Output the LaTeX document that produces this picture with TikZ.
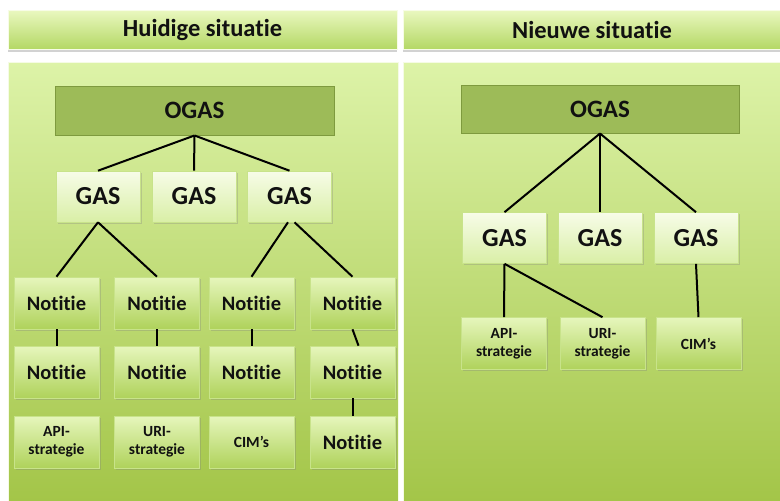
\documentclass[tikz,border=0pt]{standalone}
\usepackage{fontspec}
\setmainfont[Ligatures=NoCommon]{Carlito}
\usetikzlibrary{shadows}
\definecolor{panTop}{HTML}{DDF3A8}
\definecolor{panBot}{HTML}{A3C548}
\definecolor{hdTop}{HTML}{EAF8C0}
\definecolor{hdBot}{HTML}{B4D865}
\definecolor{ogasFill}{HTML}{9DBB58}
\definecolor{ogasLine}{HTML}{7E9A3E}
\definecolor{gasTop}{HTML}{F7FCE8}
\definecolor{gasBot}{HTML}{D9EFA6}
\definecolor{notTop}{HTML}{E6F6BC}
\definecolor{notBot}{HTML}{AFD25B}
\definecolor{boxLine}{HTML}{C8E38A}
\definecolor{txt}{HTML}{111111}
\tikzset{
  panel/.style={draw=white!70!panTop, line width=0.8pt, top color=panTop, bottom color=panBot},
  header/.style={draw=white!60!hdTop, line width=0.6pt, top color=hdTop, bottom color=hdBot,
     drop shadow={shadow xshift=0pt, shadow yshift=-2.5pt, opacity=0.35}, inner sep=0pt,
     font=\fontsize{24.5}{26}\selectfont\bfseries, text=txt},
  ogas/.style={draw=ogasLine, line width=1pt, fill=ogasFill, inner sep=0pt,
     font=\fontsize{25}{27}\selectfont\bfseries, text=txt},
  gas/.style={draw=boxLine, line width=0.6pt, top color=gasTop, bottom color=gasBot, inner sep=0pt,
     minimum width=84pt, minimum height=51pt,
     drop shadow={shadow xshift=1.5pt, shadow yshift=-1.5pt, opacity=0.3},
     font=\fontsize{26}{28}\selectfont\bfseries, text=txt},
  note/.style={draw=boxLine, line width=0.6pt, top color=notTop, bottom color=notBot, inner sep=0pt,
     minimum width=85pt, minimum height=52pt,
     drop shadow={shadow xshift=1.5pt, shadow yshift=-1.5pt, opacity=0.3},
     font=\fontsize{20.5}{22}\selectfont\bfseries, text=txt},
  small/.style={note, align=center, font=\fontsize{15.5}{18}\selectfont\bfseries},
  link/.style={line width=2pt, black}
}
\begin{document}
\begin{tikzpicture}[x=1pt,y=-1pt]
\useasboundingbox[fill=white] (0,0) rectangle (780,501);
% panels
\path[panel] (8,62) rectangle (398,502);
\path[panel] (403,62) rectangle (781,502);
% headers
\node[header, minimum width=389pt, minimum height=39pt] (hl) at (202.5,29.5) {Huidige situatie};
\node[header, minimum width=378pt, minimum height=39pt] (hr) at (592,29.5) {Nieuwe situatie};
% left tree
\node[ogas, minimum width=279pt, minimum height=49pt] (ol) at (194.5,110.5) {OGAS};
\node[gas] (gl1) at (98,196.5) {GAS};
\node[gas] (gl2) at (194,196.5) {GAS};
\node[gas] (gl3) at (289.5,196.5) {GAS};
\node[note] (a1) at (56.5,303) {Notitie};
\node[note] (a2) at (157,303) {Notitie};
\node[note] (a3) at (251.5,303) {Notitie};
\node[note] (a4) at (352.5,303) {Notitie};
\node[note] (b1) at (56.5,372) {Notitie};
\node[note] (b2) at (157,372) {Notitie};
\node[note] (b3) at (251.5,372) {Notitie};
\node[note] (b4) at (352.5,372) {Notitie};
\node[small] (c1) at (56.5,442) {API-\\strategie};
\node[small] (c2) at (157,442) {URI-\\strategie};
\node[small] (c3) at (251.5,442) {CIM’s};
\node[note] (c4) at (352.5,442) {Notitie};
\draw[link] (ol.south) -- (gl1.north);
\draw[link] (ol.south) -- (gl2.north);
\draw[link] (ol.south) -- (gl3.north);
\draw[link] (gl1.south) -- (a1.north);
\draw[link] (gl1.south) -- (a2.north);
\draw[link] ([xshift=-1.5pt]gl3.south) -- (a3.north);
\draw[link] ([xshift=5pt]gl3.south) -- (a4.north);
\draw[link] (a1.south) -- (b1.north);
\draw[link] (a2.south) -- (b2.north);
\draw[link] (a3.south) -- (b3.north);
\draw[link] (a4.south) -- ([xshift=6pt]b4.north);
\draw[link] (b4.south) -- (c4.north);
% right tree
\node[ogas, minimum width=278pt, minimum height=48pt] (or) at (600,109) {OGAS};
\node[gas] (gr1) at (504.5,238) {GAS};
\node[gas] (gr2) at (600,238) {GAS};
\node[gas] (gr3) at (696,238) {GAS};
\node[small] (d1) at (504,343.5) {API-\\strategie};
\node[small] (d2) at (602.5,343.5) {URI-\\strategie};
\node[small] (d3) at (698.5,343.5) {CIM’s};
\draw[link] (or.south) -- (gr1.north);
\draw[link] (or.south) -- (gr2.north);
\draw[link] (or.south) -- (gr3.north);
\draw[link] (gr1.south) -- (d1.north);
\draw[link] (gr1.south) -- (d2.north);
\draw[link] (gr3.south) -- (d3.north);
\end{tikzpicture}
\end{document}
